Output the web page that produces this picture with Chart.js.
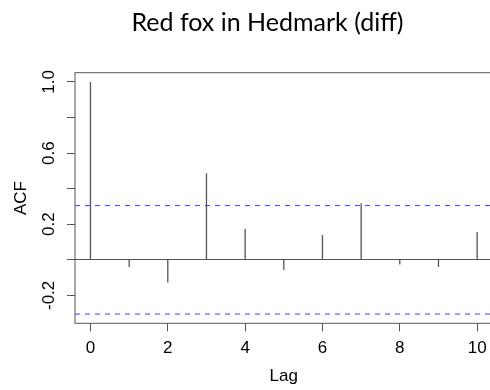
<!DOCTYPE html>
<html>
<head>
<meta charset="utf-8">
<script src="https://cdn.jsdelivr.net/npm/chart.js@4.4.1/dist/chart.umd.min.js"></script>
<style>
  html, body { margin: 0; padding: 0; background: #fff; width: 490px; height: 390px; overflow: hidden; }
  #wrap { width: 535px; height: 390px; }
</style>
</head>
<body>
<div id="wrap"><canvas id="c" width="535" height="390"></canvas></div>
<script>
// Autocorrelation of the differenced red fox series, lags 0..10
const lags = [0, 1, 2, 3, 4, 5, 6, 7, 8, 9, 10];
const acf = [1.0, -0.041, -0.127, 0.486, 0.174, -0.058, 0.140, 0.318, -0.026, -0.041, 0.157];
const ciBound = 0.305;               // approximate 95% band, +/-
const xRange = [-0.4, 10.4];
const yRange = [-0.357, 1.052];
const xTicks = [0, 2, 4, 6, 8, 10];
const yTicks = [-0.2, 0, 0.2, 0.4, 0.6, 0.8, 1.0];
const yLabelled = ['-0.2', '0.2', '0.6', '1.0'];

const axisGray = '#555';
const bandBlue = '#3f3fff';
const sans = '"Liberation Sans", Arial, sans-serif';

// box around the plotting region
const frame = {
  id: 'frame',
  afterDraw(chart) {
    const a = chart.chartArea, ctx = chart.ctx;
    ctx.save();
    ctx.setLineDash([]);
    ctx.strokeStyle = axisGray;
    ctx.lineWidth = 1;
    ctx.strokeRect(a.left, a.top, a.right - a.left, a.bottom - a.top);
    ctx.restore();
  }
};

// one vertical spike per lag, separated by gaps
const spikes = lags.flatMap((l, i) => [{ x: l, y: 0 }, { x: l, y: acf[i] }, { x: l, y: null }]);
const bandLine = v => [{ x: xRange[0], y: v }, { x: xRange[1], y: v }];

const lineDefaults = { showLine: true, pointRadius: 0, pointHoverRadius: 0, spanGaps: false, fill: false, tension: 0 };

new Chart(document.getElementById('c'), {
  type: 'scatter',
  data: {
    datasets: [
      Object.assign({ data: spikes, borderColor: '#555', borderWidth: 1.3, borderCapStyle: 'butt' }, lineDefaults),
      Object.assign({ data: bandLine(ciBound), borderColor: bandBlue, borderWidth: 1, borderDash: [5, 5] }, lineDefaults),
      Object.assign({ data: bandLine(-ciBound), borderColor: bandBlue, borderWidth: 1, borderDash: [5, 5] }, lineDefaults)
    ]
  },
  options: {
    responsive: false,
    animation: false,
    devicePixelRatio: 1,
    events: [],
    plugins: {
      legend: { display: false },
      tooltip: { enabled: false },
      title: {
        display: true,
        text: 'Red fox in Hedmark (diff)',
        color: '#000',
        font: { family: 'Lato, "Open Sans", sans-serif', size: 25, weight: 'normal' },
        padding: { top: 8, bottom: 34.7 }
      }
    },
    scales: {
      x: {
        type: 'linear',
        position: 'bottom',
        min: xRange[0],
        max: xRange[1],
        afterBuildTicks: s => { s.ticks = xTicks.map(v => ({ value: v })); },
        afterFit: s => { s.height = 66.7; },
        ticks: { color: '#000', font: { family: sans, size: 17 }, padding: 7, maxRotation: 0, autoSkip: false },
        grid: { drawOnChartArea: false, tickLength: 8, tickColor: axisGray, lineWidth: 1 },
        border: { display: false },
        title: { display: true, text: 'Lag', color: '#000', font: { family: sans, size: 17 }, padding: { top: 0, bottom: 3 } }
      },
      y: {
        type: 'linear',
        position: 'left',
        min: yRange[0],
        max: yRange[1],
        afterBuildTicks: s => { s.ticks = yTicks.map(v => ({ value: v })); },
        afterFit: s => { s.width = 75; },
        ticks: {
          color: '#000',
          font: { family: sans, size: 17 },
          padding: 3,
          minRotation: 90,
          maxRotation: 90,
          crossAlign: 'center',
          autoSkip: false,
          callback: v => { const t = v.toFixed(1); return yLabelled.includes(t) ? t : ''; }
        },
        grid: {
          color: c => (c.tick && Math.abs(c.tick.value) < 1e-9 ? axisGray : 'rgba(0,0,0,0)'),
          tickColor: axisGray,
          tickLength: 8,
          lineWidth: 1
        },
        border: { display: false },
        title: { display: true, text: 'ACF', color: '#000', font: { family: sans, size: 17 }, padding: { top: 11, bottom: 0 } }
      },
      yRight: {
        type: 'linear',
        position: 'right',
        min: yRange[0],
        max: yRange[1],
        afterFit: s => { s.width = 42.4; },
        ticks: { display: false },
        grid: { display: false },
        border: { display: false }
      }
    }
  },
  plugins: [frame]
});
</script>
</body>
</html>
